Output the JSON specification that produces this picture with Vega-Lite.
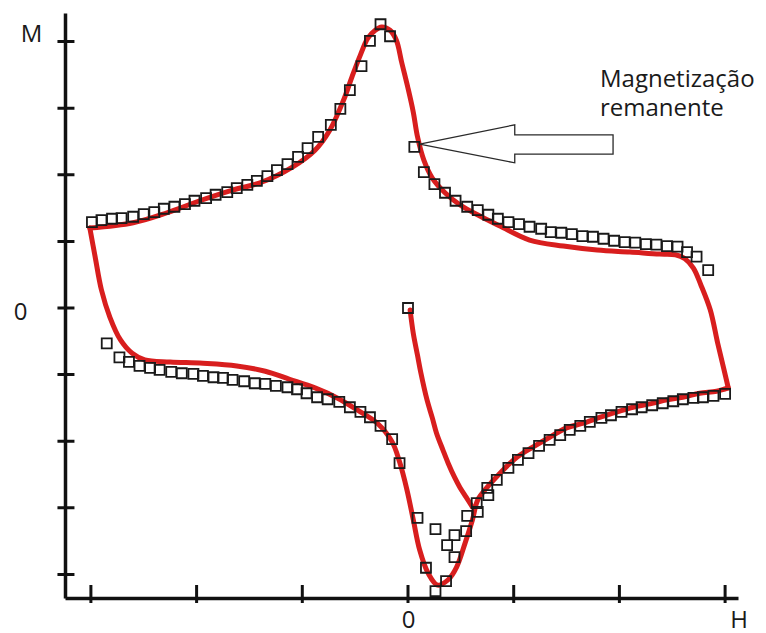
{
  "$schema": "https://vega.github.io/schema/vega-lite/v6.json",
  "width": 673,
  "height": 585,
  "autosize": "none",
  "padding": {"left": 65, "top": 13, "right": 28, "bottom": 35},
  "background": "white",
  "config": {"view": {"stroke": null}, "font": "Open Sans"},
  "datasets": {
    "curve": [
      {"seg": "upper", "i": 1, "h": -3.01, "m": 1.20},
      {"seg": "upper", "i": 2, "h": -2.60, "m": 1.28},
      {"seg": "upper", "i": 3, "h": -2.28, "m": 1.43},
      {"seg": "upper", "i": 4, "h": -1.97, "m": 1.61},
      {"seg": "upper", "i": 5, "h": -1.66, "m": 1.77},
      {"seg": "upper", "i": 6, "h": -1.40, "m": 1.88},
      {"seg": "upper", "i": 7, "h": -1.09, "m": 2.12},
      {"seg": "upper", "i": 8, "h": -0.88, "m": 2.37},
      {"seg": "upper", "i": 9, "h": -0.74, "m": 2.67},
      {"seg": "upper", "i": 10, "h": -0.61, "m": 3.12},
      {"seg": "upper", "i": 11, "h": -0.53, "m": 3.47},
      {"seg": "upper", "i": 12, "h": -0.45, "m": 3.80},
      {"seg": "upper", "i": 13, "h": -0.38, "m": 4.05},
      {"seg": "upper", "i": 14, "h": -0.31, "m": 4.17},
      {"seg": "upper", "i": 15, "h": -0.25, "m": 4.22},
      {"seg": "upper", "i": 16, "h": -0.17, "m": 4.17},
      {"seg": "upper", "i": 17, "h": -0.11, "m": 4.02},
      {"seg": "upper", "i": 18, "h": -0.06, "m": 3.69},
      {"seg": "upper", "i": 19, "h": 0.00, "m": 3.30},
      {"seg": "upper", "i": 20, "h": 0.05, "m": 2.94},
      {"seg": "upper", "i": 21, "h": 0.09, "m": 2.57},
      {"seg": "upper", "i": 22, "h": 0.15, "m": 2.22},
      {"seg": "upper", "i": 23, "h": 0.23, "m": 1.95},
      {"seg": "upper", "i": 24, "h": 0.35, "m": 1.73},
      {"seg": "upper", "i": 25, "h": 0.49, "m": 1.55},
      {"seg": "upper", "i": 26, "h": 0.68, "m": 1.38},
      {"seg": "upper", "i": 27, "h": 0.87, "m": 1.23},
      {"seg": "upper", "i": 28, "h": 1.15, "m": 1.02},
      {"seg": "upper", "i": 29, "h": 1.47, "m": 0.93},
      {"seg": "upper", "i": 30, "h": 1.79, "m": 0.87},
      {"seg": "upper", "i": 31, "h": 2.10, "m": 0.84},
      {"seg": "upper", "i": 32, "h": 2.38, "m": 0.81},
      {"seg": "upper", "i": 33, "h": 2.53, "m": 0.80},
      {"seg": "upper", "i": 34, "h": 2.62, "m": 0.74},
      {"seg": "upper", "i": 35, "h": 2.70, "m": 0.60},
      {"seg": "upper", "i": 36, "h": 2.77, "m": 0.35},
      {"seg": "upper", "i": 37, "h": 2.86, "m": -0.03},
      {"seg": "upper", "i": 38, "h": 2.93, "m": -0.53},
      {"seg": "upper", "i": 39, "h": 2.99, "m": -0.93},
      {"seg": "upper", "i": 40, "h": 3.03, "m": -1.20},
      {"seg": "lower", "i": 1, "h": -3.01, "m": 1.20},
      {"seg": "lower", "i": 2, "h": -2.96, "m": 0.77},
      {"seg": "lower", "i": 3, "h": -2.90, "m": 0.27},
      {"seg": "lower", "i": 4, "h": -2.82, "m": -0.14},
      {"seg": "lower", "i": 5, "h": -2.72, "m": -0.48},
      {"seg": "lower", "i": 6, "h": -2.61, "m": -0.68},
      {"seg": "lower", "i": 7, "h": -2.49, "m": -0.78},
      {"seg": "lower", "i": 8, "h": -2.25, "m": -0.81},
      {"seg": "lower", "i": 9, "h": -1.94, "m": -0.83},
      {"seg": "lower", "i": 10, "h": -1.62, "m": -0.87},
      {"seg": "lower", "i": 11, "h": -1.35, "m": -0.95},
      {"seg": "lower", "i": 12, "h": -1.12, "m": -1.07},
      {"seg": "lower", "i": 13, "h": -0.88, "m": -1.20},
      {"seg": "lower", "i": 14, "h": -0.67, "m": -1.35},
      {"seg": "lower", "i": 15, "h": -0.48, "m": -1.53},
      {"seg": "lower", "i": 16, "h": -0.29, "m": -1.73},
      {"seg": "lower", "i": 17, "h": -0.15, "m": -2.01},
      {"seg": "lower", "i": 18, "h": -0.08, "m": -2.31},
      {"seg": "lower", "i": 19, "h": -0.01, "m": -2.73},
      {"seg": "lower", "i": 20, "h": 0.05, "m": -3.18},
      {"seg": "lower", "i": 21, "h": 0.11, "m": -3.63},
      {"seg": "lower", "i": 22, "h": 0.19, "m": -3.98},
      {"seg": "lower", "i": 23, "h": 0.28, "m": -4.16},
      {"seg": "lower", "i": 24, "h": 0.38, "m": -4.08},
      {"seg": "lower", "i": 25, "h": 0.46, "m": -3.89},
      {"seg": "lower", "i": 26, "h": 0.54, "m": -3.53},
      {"seg": "lower", "i": 27, "h": 0.61, "m": -3.18},
      {"seg": "lower", "i": 28, "h": 0.66, "m": -2.88},
      {"seg": "lower", "i": 29, "h": 0.75, "m": -2.69},
      {"seg": "lower", "i": 30, "h": 0.87, "m": -2.48},
      {"seg": "lower", "i": 31, "h": 1.03, "m": -2.24},
      {"seg": "lower", "i": 32, "h": 1.18, "m": -2.09},
      {"seg": "lower", "i": 33, "h": 1.34, "m": -1.94},
      {"seg": "lower", "i": 34, "h": 1.50, "m": -1.80},
      {"seg": "lower", "i": 35, "h": 1.66, "m": -1.73},
      {"seg": "lower", "i": 36, "h": 1.82, "m": -1.64},
      {"seg": "lower", "i": 37, "h": 1.98, "m": -1.56},
      {"seg": "lower", "i": 38, "h": 2.13, "m": -1.49},
      {"seg": "lower", "i": 39, "h": 2.29, "m": -1.44},
      {"seg": "lower", "i": 40, "h": 2.45, "m": -1.38},
      {"seg": "lower", "i": 41, "h": 2.60, "m": -1.34},
      {"seg": "lower", "i": 42, "h": 2.76, "m": -1.28},
      {"seg": "lower", "i": 43, "h": 2.92, "m": -1.25},
      {"seg": "lower", "i": 44, "h": 3.03, "m": -1.20},
      {"seg": "init", "i": 1, "h": 0.02, "m": -0.03},
      {"seg": "init", "i": 2, "h": 0.05, "m": -0.38},
      {"seg": "init", "i": 3, "h": 0.09, "m": -0.71},
      {"seg": "init", "i": 4, "h": 0.12, "m": -0.96},
      {"seg": "init", "i": 5, "h": 0.18, "m": -1.38},
      {"seg": "init", "i": 6, "h": 0.23, "m": -1.65},
      {"seg": "init", "i": 7, "h": 0.27, "m": -1.88},
      {"seg": "init", "i": 8, "h": 0.33, "m": -2.13},
      {"seg": "init", "i": 9, "h": 0.38, "m": -2.33},
      {"seg": "init", "i": 10, "h": 0.44, "m": -2.54},
      {"seg": "init", "i": 11, "h": 0.49, "m": -2.69},
      {"seg": "init", "i": 12, "h": 0.55, "m": -2.84},
      {"seg": "init", "i": 13, "h": 0.61, "m": -2.99}
    ],
    "squares": [
      {"h": -2.99, "m": 1.29}, {"h": -2.90, "m": 1.32}, {"h": -2.80, "m": 1.34}, {"h": -2.71, "m": 1.35},
      {"h": -2.60, "m": 1.37}, {"h": -2.50, "m": 1.41}, {"h": -2.40, "m": 1.44}, {"h": -2.31, "m": 1.49},
      {"h": -2.21, "m": 1.52}, {"h": -2.11, "m": 1.56}, {"h": -2.02, "m": 1.61}, {"h": -1.91, "m": 1.65},
      {"h": -1.82, "m": 1.70}, {"h": -1.71, "m": 1.74}, {"h": -1.62, "m": 1.80}, {"h": -1.52, "m": 1.85},
      {"h": -1.43, "m": 1.91}, {"h": -1.33, "m": 1.98}, {"h": -1.24, "m": 2.07}, {"h": -1.14, "m": 2.16},
      {"h": -1.04, "m": 2.27}, {"h": -0.95, "m": 2.40}, {"h": -0.85, "m": 2.57}, {"h": -0.73, "m": 2.75},
      {"h": -0.64, "m": 2.99}, {"h": -0.55, "m": 3.27}, {"h": -0.44, "m": 3.63}, {"h": -0.36, "m": 4.01},
      {"h": -0.26, "m": 4.26}, {"h": -0.17, "m": 4.08},
      {"h": 0.06, "m": 2.42}, {"h": 0.15, "m": 2.04}, {"h": 0.25, "m": 1.86}, {"h": 0.35, "m": 1.73},
      {"h": 0.45, "m": 1.61}, {"h": 0.56, "m": 1.52}, {"h": 0.66, "m": 1.47}, {"h": 0.76, "m": 1.40},
      {"h": 0.85, "m": 1.34}, {"h": 0.95, "m": 1.29}, {"h": 1.05, "m": 1.26}, {"h": 1.15, "m": 1.22},
      {"h": 1.26, "m": 1.19}, {"h": 1.35, "m": 1.14}, {"h": 1.45, "m": 1.13}, {"h": 1.55, "m": 1.11},
      {"h": 1.65, "m": 1.08}, {"h": 1.75, "m": 1.07}, {"h": 1.85, "m": 1.04}, {"h": 1.95, "m": 1.01},
      {"h": 2.05, "m": 0.99}, {"h": 2.15, "m": 0.98}, {"h": 2.25, "m": 0.96}, {"h": 2.35, "m": 0.95},
      {"h": 2.45, "m": 0.93}, {"h": 2.55, "m": 0.92}, {"h": 2.64, "m": 0.84}, {"h": 2.73, "m": 0.77},
      {"h": 2.84, "m": 0.57},
      {"h": -2.85, "m": -0.53}, {"h": -2.73, "m": -0.74}, {"h": -2.64, "m": -0.81}, {"h": -2.54, "m": -0.87},
      {"h": -2.44, "m": -0.90}, {"h": -2.35, "m": -0.93}, {"h": -2.24, "m": -0.96}, {"h": -2.14, "m": -0.98},
      {"h": -2.03, "m": -0.99}, {"h": -1.94, "m": -1.02}, {"h": -1.84, "m": -1.04}, {"h": -1.75, "m": -1.05},
      {"h": -1.66, "m": -1.08}, {"h": -1.55, "m": -1.10}, {"h": -1.45, "m": -1.13}, {"h": -1.35, "m": -1.14},
      {"h": -1.25, "m": -1.17}, {"h": -1.14, "m": -1.19}, {"h": -1.05, "m": -1.22}, {"h": -0.96, "m": -1.28},
      {"h": -0.86, "m": -1.34}, {"h": -0.76, "m": -1.37}, {"h": -0.65, "m": -1.41}, {"h": -0.55, "m": -1.49},
      {"h": -0.45, "m": -1.56}, {"h": -0.36, "m": -1.64}, {"h": -0.26, "m": -1.77}, {"h": -0.15, "m": -1.97},
      {"h": -0.08, "m": -2.33},
      {"h": 0.09, "m": -3.15}, {"h": 0.26, "m": -3.32}, {"h": 0.17, "m": -3.90}, {"h": 0.26, "m": -4.25},
      {"h": 0.36, "m": -4.10}, {"h": 0.37, "m": -3.56}, {"h": 0.44, "m": -3.41}, {"h": 0.44, "m": -3.74},
      {"h": 0.55, "m": -3.35}, {"h": 0.56, "m": -3.12}, {"h": 0.65, "m": -2.93}, {"h": 0.66, "m": -3.06},
      {"h": 0.75, "m": -2.70}, {"h": 0.76, "m": -2.81}, {"h": 0.84, "m": -2.58}, {"h": 0.95, "m": -2.40},
      {"h": 1.04, "m": -2.28}, {"h": 1.14, "m": -2.18}, {"h": 1.24, "m": -2.07}, {"h": 1.34, "m": -1.98},
      {"h": 1.44, "m": -1.91}, {"h": 1.53, "m": -1.83}, {"h": 1.63, "m": -1.77}, {"h": 1.72, "m": -1.71},
      {"h": 1.83, "m": -1.65}, {"h": 1.92, "m": -1.61}, {"h": 2.02, "m": -1.56}, {"h": 2.12, "m": -1.52},
      {"h": 2.21, "m": -1.49}, {"h": 2.31, "m": -1.46}, {"h": 2.41, "m": -1.43}, {"h": 2.51, "m": -1.40},
      {"h": 2.60, "m": -1.37}, {"h": 2.70, "m": -1.35}, {"h": 2.79, "m": -1.34}, {"h": 2.89, "m": -1.32},
      {"h": 3.00, "m": -1.29},
      {"h": 0.00, "m": 0.00}
    ],
    "arrow": [
      {"i": 1, "h": 0.11, "m": 2.46},
      {"i": 2, "h": 1.01, "m": 2.75},
      {"i": 3, "h": 1.01, "m": 2.60},
      {"i": 4, "h": 1.94, "m": 2.60},
      {"i": 5, "h": 1.94, "m": 2.31},
      {"i": 6, "h": 1.01, "m": 2.31},
      {"i": 7, "h": 1.01, "m": 2.18},
      {"i": 8, "h": 0.11, "m": 2.46}
    ],
    "labels": [
      {"h": 1.816, "m": 3.318, "text": "Magnetização\nremanente"}
    ],
    "xticks": [{"h": -3}, {"h": -2}, {"h": -1}, {"h": 0}, {"h": 1}, {"h": 2}, {"h": 3}],
    "yticks": [{"m": -4}, {"m": -3}, {"m": -2}, {"m": -1}, {"m": 0}, {"m": 1}, {"m": 2}, {"m": 3}, {"m": 4}]
  },
  "layer": [
    {
      "data": {"name": "curve"},
      "mark": {"type": "line", "color": "#d81e1e", "strokeWidth": 5, "strokeCap": "round", "strokeJoin": "round", "interpolate": "catmull-rom"},
      "encoding": {
        "x": {
          "field": "h", "type": "quantitative",
          "scale": {"domain": [-3.245, 3.122], "nice": false, "zero": false},
          "axis": {
            "values": [0], "format": ".0f", "ticks": false, "tickSize": 0, "grid": false,
            "labelFontSize": 24, "labelFont": "Open Sans", "labelColor": "#1a1a1a", "labelPadding": 10,
            "domainColor": "#111111", "domainWidth": 3.5,
            "title": "H", "titleFont": "Open Sans", "titleFontSize": 24, "titleFontWeight": "normal", "titleColor": "#1a1a1a",
            "titleX": 673.5, "titleY": 10, "titleAlign": "center", "titleBaseline": "top", "titleAngle": 0
          }
        },
        "y": {
          "field": "m", "type": "quantitative",
          "scale": {"domain": [-4.354, 4.429], "nice": false, "zero": false},
          "axis": {
            "values": [0], "format": ".0f", "ticks": false, "tickSize": 0, "grid": false,
            "labelFontSize": 24, "labelFont": "Open Sans", "labelColor": "#1a1a1a", "labelPadding": 38, "labelOffset": 5,
            "domainColor": "#111111", "domainWidth": 3.5,
            "title": "M", "titleFont": "Open Sans", "titleFontSize": 24, "titleFontWeight": "normal", "titleColor": "#1a1a1a",
            "titleX": -34, "titleY": 28, "titleAlign": "center", "titleBaseline": "alphabetic", "titleAngle": 0
          }
        },
        "detail": {"field": "seg", "type": "nominal"},
        "order": {"field": "i", "type": "quantitative"}
      }
    },
    {
      "data": {"name": "squares"},
      "mark": {"type": "point", "shape": "square", "filled": false, "size": 100, "stroke": "#1a1a1a", "strokeWidth": 1.8, "opacity": 1},
      "encoding": {
        "x": {"field": "h", "type": "quantitative"},
        "y": {"field": "m", "type": "quantitative"}
      }
    },
    {
      "data": {"name": "arrow"},
      "mark": {"type": "line", "color": "#2a2a2a", "strokeWidth": 1.3, "strokeJoin": "miter"},
      "encoding": {
        "x": {"field": "h", "type": "quantitative"},
        "y": {"field": "m", "type": "quantitative"},
        "order": {"field": "i", "type": "quantitative"}
      }
    },
    {
      "data": {"name": "labels"},
      "mark": {"type": "text", "align": "left", "baseline": "alphabetic", "font": "Open Sans", "fontSize": 24, "color": "#1a1a1a", "lineBreak": "\n", "lineHeight": 29},
      "encoding": {
        "x": {"field": "h", "type": "quantitative"},
        "y": {"field": "m", "type": "quantitative"},
        "text": {"field": "text", "type": "nominal"}
      }
    },
    {
      "data": {"name": "xticks"},
      "mark": {"type": "tick", "orient": "vertical", "size": 18, "thickness": 3, "color": "#111111", "opacity": 1},
      "encoding": {
        "x": {"field": "h", "type": "quantitative"},
        "y": {"datum": -4.294, "type": "quantitative"}
      }
    },
    {
      "data": {"name": "yticks"},
      "mark": {"type": "tick", "orient": "horizontal", "size": 17, "thickness": 3, "color": "#111111", "opacity": 1},
      "encoding": {
        "x": {"datum": -3.236, "type": "quantitative"},
        "y": {"field": "m", "type": "quantitative"}
      }
    }
  ]
}
